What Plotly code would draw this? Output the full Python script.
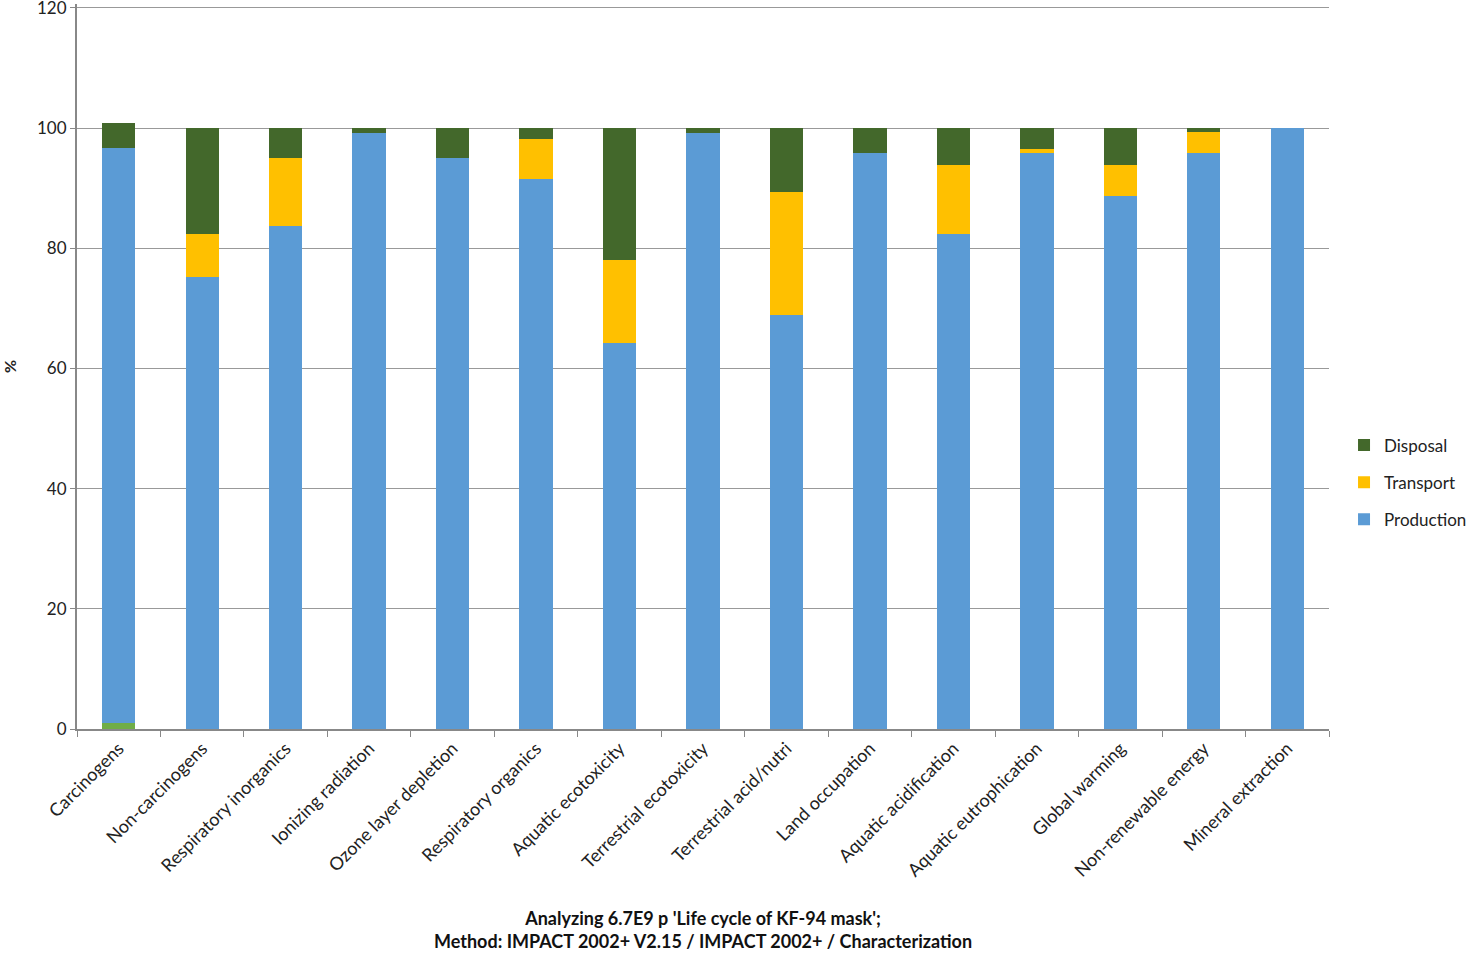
import plotly.graph_objects as go

categories = ["Carcinogens", "Non-carcinogens", "Respiratory inorganics", "Ionizing radiation",
              "Ozone layer depletion", "Respiratory organics", "Aquatic ecotoxicity",
              "Terrestrial ecotoxicity", "Terrestrial acid/nutri", "Land occupation",
              "Aquatic acidification", "Aquatic eutrophication", "Global warming",
              "Non-renewable energy", "Mineral extraction"]
other = [1.0, 0, 0, 0, 0, 0, 0, 0, 0, 0, 0, 0, 0, 0, 0]
production = [95.7, 75.2, 83.7, 99.2, 95.0, 91.5, 64.2, 99.2, 68.9, 95.9, 82.4, 95.9, 88.7, 95.9, 100.0]
transport = [0, 7.2, 11.3, 0, 0, 6.7, 13.9, 0, 20.5, 0, 11.5, 0.6, 5.2, 3.5, 0]
disposal = [4.2, 17.6, 5.0, 0.8, 5.0, 1.8, 21.9, 0.8, 10.6, 4.1, 6.1, 3.5, 6.1, 0.6, 0]
y_ticks = [0, 20, 40, 60, 80, 100, 120]

font = "Lato, Open Sans, sans-serif"

fig = go.Figure()
fig.add_trace(go.Bar(x=categories, y=other, marker_color="#70AD47", showlegend=False,
                     name="Other", legendgroup="o", legendrank=4))
fig.add_trace(go.Bar(x=categories, y=production, marker_color="#5B9BD5", name="Production",
                     legendgroup="p", legendrank=3))
fig.add_trace(go.Bar(x=categories, y=transport, marker_color="#FFC000", name="Transport",
                     legendgroup="t", legendrank=2))
fig.add_trace(go.Bar(x=categories, y=disposal, marker_color="#43682B", name="Disposal",
                     legendgroup="d", legendrank=1))

fig.update_traces(marker_line_width=0)

fig.update_layout(
    width=1473, height=953,
    barmode="stack", bargap=0.6,
    plot_bgcolor="white", paper_bgcolor="white",
    margin=dict(l=77, r=144, t=4, b=224, autoexpand=False),
    font=dict(family=font, size=16, color="#222"),
    legend=dict(traceorder="grouped", x=1.012, y=0.34, xanchor="left", yanchor="middle",
                font=dict(size=17), itemwidth=30, tracegroupgap=12),
    xaxis=dict(tickangle=-45, tickson="boundaries", ticks="outside", ticklen=6, automargin=False,
               tickcolor="#888", showline=True, linecolor="#888", linewidth=2,
               tickfont=dict(size=18)),
    yaxis=dict(range=[0, 120.65], tickvals=y_ticks, showgrid=True, gridcolor="#999", gridwidth=1,
               showline=True, linecolor="#888", linewidth=2, ticks="outside", ticklen=5,
               automargin=False, tickcolor="#888", tickfont=dict(size=17),
               ticklabeloverflow="allow",
               title=dict(text="<b>%</b>", font=dict(size=16), standoff=40)),
    annotations=[dict(text="<b>Analyzing 6.7E9 p 'Life cycle of KF-94 mask';<br>Method: IMPACT 2002+ V2.15 / IMPACT 2002+ / Characterization</b>",
                      xref="paper", yref="paper", x=0.5, y=-0.276, xanchor="center", yanchor="middle",
                      showarrow=False, font=dict(size=18, color="#111"))],
)

fig.write_html("out.html", config={"displayModeBar": False},
               post_script="document.body.style.margin='0';document.body.style.overflow='hidden';")
